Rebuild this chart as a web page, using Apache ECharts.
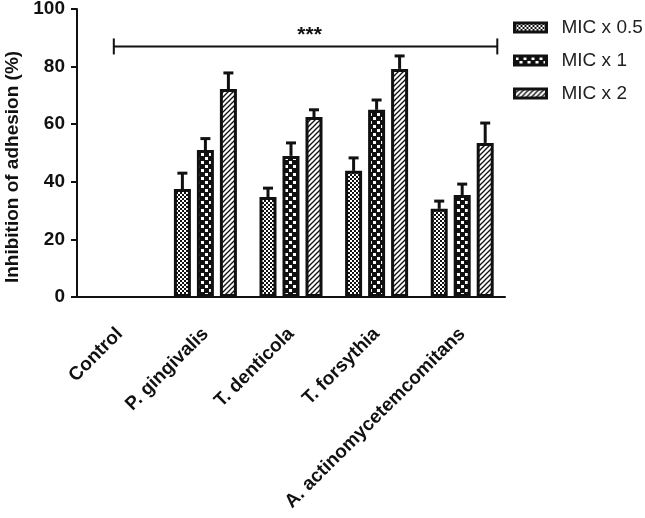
<!DOCTYPE html>
<html><head><meta charset="utf-8">
<script src="https://cdn.jsdelivr.net/npm/echarts@6/dist/echarts.min.js"></script>
<style>html,body{margin:0;padding:0;background:#fff}#c{width:645px;height:518px}</style>
</head><body><div id="c"></div>
<script>
const categories = ['Control','P. gingivalis','T. denticola','T. forsythia','A. actinomycetemcomitans'];
const seriesNames = ['MIC x 0.5','MIC x 1','MIC x 2'];
const mic05 = [0, 37.5, 34.7, 43.8, 30.6];
const mic05Err = [0, 5.5, 3.1, 4.5, 2.7];
const mic1 = [0, 51.0, 49.0, 65.0, 35.4];
const mic1Err = [0, 4.0, 4.5, 3.4, 3.8];
const mic2 = [0, 72.2, 62.5, 79.2, 53.5];
const mic2Err = [0, 5.6, 2.5, 4.5, 6.9];
const yTicks = [0, 20, 40, 60, 80, 100];
const sigLevel = 87;
const sigText = '***';

const FONT = '"Liberation Sans", Arial, sans-serif';
function makeCanvas(w, h, draw) {
  const c = document.createElement('canvas'); c.width = w; c.height = h;
  const g = c.getContext('2d'); g.fillStyle = '#fff'; g.fillRect(0,0,w,h); draw(g); return c;
}
const patFine = makeCanvas(4, 4, g => { g.fillStyle = '#111'; g.fillRect(0,0,2,2); g.fillRect(2,2,2,2); });
const patCheck = makeCanvas(8, 8, g => { g.fillStyle = '#111'; g.fillRect(0,0,8,8); g.fillStyle='#fff'; g.fillRect(1,1,3,3); g.fillRect(5,5,3,3); });
const patHatch = makeCanvas(5, 5, g => {
  g.strokeStyle = '#111'; g.lineWidth = 1.3;
  g.beginPath(); g.moveTo(-1,6); g.lineTo(6,-1); g.stroke();
  g.beginPath(); g.moveTo(-6,6); g.lineTo(1,-1); g.stroke();
  g.beginPath(); g.moveTo(4,6); g.lineTo(11,-1); g.stroke();
});
const patterns = [patFine, patCheck, patHatch];
const values = [mic05, mic1, mic2];
const errs = [mic05Err, mic1Err, mic2Err];

const BAR_W = 17, BAR_STEP = 23;
const chart = echarts.init(document.getElementById('c'), null, {renderer: 'canvas'});
const series = [];
values.forEach((v, i) => {
  series.push({
    name: seriesNames[i], type: 'bar', barWidth: BAR_W, barGap: '35.3%',
    data: v.map(val => val ? val : { value: val, itemStyle: { borderWidth: 0 } }),
    itemStyle: { color: { image: patterns[i], repeat: 'repeat' }, borderColor: '#111', borderWidth: 3 },
    z: 2
  });
});
values.forEach((v, i) => {
  series.push({
    type: 'custom', z: 4, clip: false, silent: true,
    data: v.map((val, k) => [k, val, errs[i][k]]),
    renderItem: (params, api) => {
      const val = api.value(1), e = api.value(2);
      if (!val) return null;
      const p0 = api.coord([api.value(0), val]);
      const p1 = api.coord([api.value(0), val + e]);
      const x = p0[0] + (i - 1) * BAR_STEP;
      return { type: 'group', children: [
        { type: 'line', shape: { x1: x, y1: p0[1], x2: x, y2: p1[1] }, style: { stroke: '#111', lineWidth: 3 } },
        { type: 'line', shape: { x1: x - 5, y1: p1[1], x2: x + 5, y2: p1[1] }, style: { stroke: '#111', lineWidth: 3 } }
      ]};
    }
  });
});
series.push({
  type: 'custom', z: 5, clip: false, silent: true,
  data: [[0, sigLevel, categories.length - 1]],
  renderItem: (params, api) => {
    const a = api.coord([api.value(0), api.value(1)]);
    const b = api.coord([api.value(2), api.value(1)]);
    const band = api.size([1, 0])[0];
    const x0 = a[0] - 6, x1 = b[0] + band * 0.41, y = a[1];
    return { type: 'group', children: [
      { type: 'line', shape: { x1: x0, y1: y, x2: x1, y2: y }, style: { stroke: '#111', lineWidth: 2 } },
      { type: 'line', shape: { x1: x0, y1: y - 8, x2: x0, y2: y + 8 }, style: { stroke: '#111', lineWidth: 2 } },
      { type: 'line', shape: { x1: x1, y1: y - 8, x2: x1, y2: y + 8 }, style: { stroke: '#111', lineWidth: 2 } },
      { type: 'text', x: (x0 + x1) / 2 + 4, y: y - 11, style: { text: sigText, fill: '#111', font: 'bold 21px ' + FONT, textAlign: 'center', textVerticalAlign: 'middle' } }
    ]};
  }
});

chart.setOption({
  animation: false,
  backgroundColor: '#fff',
  grid: { left: 77, top: 9, right: 140, bottom: 221, containLabel: false, outerBoundsMode: 'none' },
  legend: {
    orient: 'vertical', left: 508, top: 13, itemWidth: 32, itemHeight: 9, itemGap: 14,
    data: seriesNames, icon: 'rect',
    itemStyle: { borderColor: '#111', borderWidth: 3 },
    textStyle: { fontSize: 19, color: '#222', fontFamily: FONT, padding: [0,0,0,10] }
  },
  xAxis: {
    type: 'category', data: categories,
    axisLine: { lineStyle: { color: '#111', width: 2 } },
    axisTick: { alignWithLabel: true, length: 7, lineStyle: { color: '#111', width: 2 } },
    axisLabel: { rotate: 45, margin: 34, interval: 0, color: '#111', fontSize: 19, fontWeight: 'bold', fontFamily: FONT }
  },
  yAxis: {
    type: 'value', min: yTicks[0], max: yTicks[yTicks.length - 1], interval: 20,
    name: 'Inhibition of adhesion (%)', nameLocation: 'middle', nameGap: 53,
    nameTextStyle: { fontSize: 19, fontWeight: 'bold', color: '#111', fontFamily: FONT, padding: [0, 28, 0, 0] },
    axisLine: { show: true, lineStyle: { color: '#111', width: 2 } },
    axisTick: { show: true, length: 6, lineStyle: { color: '#111', width: 2 } },
    splitLine: { show: false },
    axisLabel: { color: '#111', fontSize: 19, fontWeight: 'bold', margin: 12, fontFamily: FONT }
  },
  series
});
</script></body></html>
